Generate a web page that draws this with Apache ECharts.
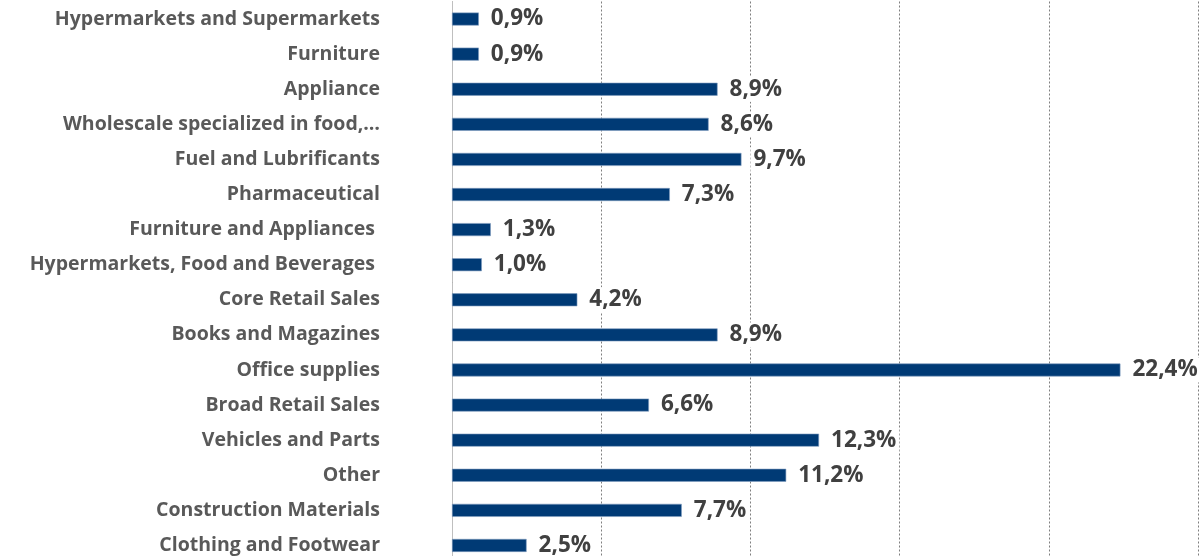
<!DOCTYPE html>
<html>
<head>
<meta charset="utf-8">
<script src="https://cdn.jsdelivr.net/npm/echarts@6/dist/echarts.min.js"></script>
<style>
html,body{margin:0;padding:0;background:#fff;overflow:hidden;}
#chart{width:1203px;height:563px;}
</style>
</head>
<body>
<div id="chart"></div>
<script>
const categories = [
  "Hypermarkets and Supermarkets",
  "Furniture",
  "Appliance",
  "Wholescale specialized in food,…",
  "Fuel and Lubrificants",
  "Pharmaceutical",
  "Furniture and Appliances ",
  "Hypermarkets, Food and Beverages ",
  "Core Retail Sales",
  "Books and Magazines",
  "Office supplies",
  "Broad Retail Sales",
  "Vehicles and Parts",
  "Other",
  "Construction Materials",
  "Clothing and Footwear"
];
const values = [0.9, 0.9, 8.9, 8.6, 9.7, 7.3, 1.3, 1.0, 4.2, 8.9, 22.4, 6.6, 12.3, 11.2, 7.7, 2.5];
const xTicks = [0, 5, 10, 15, 20, 25];

const chart = echarts.init(document.getElementById('chart'));
chart.setOption({
  animation: false,
  backgroundColor: '#fff',
  grid: { left: 452, right: 5, top: 1.5, bottom: 0, containLabel: false },
  xAxis: {
    type: 'value',
    min: xTicks[0],
    max: xTicks[xTicks.length - 1],
    interval: xTicks[1] - xTicks[0],
    axisLabel: { show: false },
    axisTick: { show: false },
    axisLine: { show: false },
    splitLine: { show: true, lineStyle: { color: '#7f7f7f', width: 1, type: [2, 2] } }
  },
  yAxis: {
    type: 'category',
    data: categories,
    inverse: true,
    axisTick: { show: false },
    axisLine: { show: true, lineStyle: { color: '#bfbfbf', width: 1 } },
    axisLabel: {
      margin: 72,
      color: '#595959',
      fontFamily: 'Open Sans',
      fontWeight: 'bold',
      fontSize: 19.5
    }
  },
  series: [{
    type: 'bar',
    data: values,
    barWidth: 13,
    itemStyle: { color: '#003a75', borderColor: '#7f9cc0', borderWidth: 0.6 },
    label: {
      show: true,
      position: 'right',
      distance: 9,
      color: '#404040',
      fontFamily: 'Open Sans',
      fontWeight: 'bold',
      fontSize: 22.5,
      backgroundColor: '#fff',
      padding: [2, 3, 0, 3],
      formatter: p => p.value.toFixed(1).replace('.', ',') + '%'
    }
  }]
});
</script>
</body>
</html>
